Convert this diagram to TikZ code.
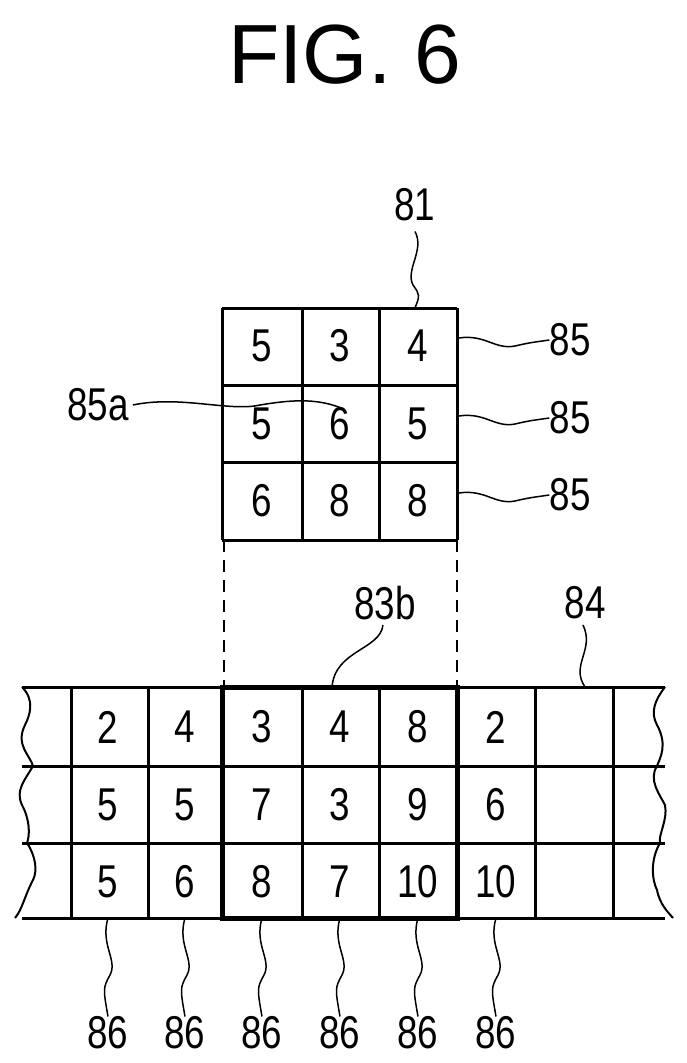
\documentclass[tikz,border=0pt]{standalone}
\usepackage{fontspec}
\setmainfont{Liberation Sans}
\begin{document}
\begin{tikzpicture}[x=1pt,y=-1pt,
  grid/.style={line width=3pt},
  lead/.style={line width=1.5pt},
  num/.style={font=\fontsize{46}{46}\selectfont, inner sep=0pt, xscale=0.8},
  lab/.style={font=\fontsize{46}{46}\selectfont, inner sep=0pt, xscale=0.8}]
\useasboundingbox (0,0) rectangle (687,1063);
\node[inner sep=0pt,font=\fontsize{84}{84}\selectfont] (fig) at (345,55) {FIG. 6};
% top grid
\foreach \x in {222,302,379,457} \draw[grid] (\x,308) -- (\x,540);
\foreach \y in {308,385,462,540} \draw[grid] (222,\y) -- (457,\y);
\foreach \v [count=\i from 0] in {5,3,4,5,6,5,6,8,8}{
  \pgfmathtruncatemacro\c{mod(\i,3)}
  \pgfmathtruncatemacro\rr{div(\i,3)}
  \pgfmathsetmacro\cx{{262,340,418}[\c]}
  \pgfmathsetmacro\cy{{346,424,501}[\rr]}
  \node[num] (t\i) at (\cx,\cy) {\v};
}
% dashed
\draw[line width=2pt,dash pattern=on 12pt off 8pt] (224,540) -- (224,687);
\draw[line width=2pt,dash pattern=on 12pt off 8pt] (457,540) -- (457,687);
% bottom grid
\foreach \y in {687,766,843,918} \draw[grid] (22,\y) -- (665,\y);
\foreach \x in {71,148,222,302,379,457,535,613} \draw[grid] (\x,687) -- (\x,918);
\draw[line width=2pt] (22,687) .. controls (35,700) and (30,715) .. (25,725)
  .. controls (15,745) and (30,755) .. (33,766)
  .. controls (25,780) and (15,790) .. (22,805)
  .. controls (30,820) and (30,835) .. (27,843)
  .. controls (35,855) and (38,870) .. (33,880)
  .. controls (25,895) and (22,910) .. (15,918);
\draw[line width=2pt] (665,687) .. controls (655,700) and (650,712) .. (657,725)
  .. controls (668,745) and (660,758) .. (657,766)
  .. controls (648,780) and (660,795) .. (665,805)
  .. controls (668,820) and (658,835) .. (660,843)
  .. controls (650,860) and (652,880) .. (657,890)
  .. controls (660,905) and (668,912) .. (673,918);
\draw[line width=5pt] (222,687) rectangle (457,918);
\foreach \v [count=\i from 0] in {2,4,3,4,8,2,,,5,5,7,3,9,6,,,5,6,8,7,10,10,,}{
  \pgfmathtruncatemacro\c{mod(\i,8)}
  \pgfmathtruncatemacro\rr{div(\i,8)}
  \pgfmathsetmacro\cx{{108,185,262,340,418,496,574,640}[\c]}
  \pgfmathsetmacro\cy{{727,805,882}[\rr]}
  \node[num] (b\i) at (\cx,\cy) {\v};
}
% labels
\node[lab] (l81) at (415,205) {81};
\coordinate (e81) at (415,308);
\draw[lead] (l81.south) ++(0,10) .. controls (425,250) and (405,270) .. (413,285) .. controls (420,295) .. (e81);
\foreach \y/\n in {346/1,424/2,501/3}{
  \node[lab] (l85\n) at (570,\y-6) {85};
  \draw[lead] (459,\y-8) .. controls (485,\y-12) and (495,\y+4) .. (515,\y) .. controls (528,\y-3) .. (l85\n.west);
}
\node[lab] (l85a) at (98,405) {85a};
\draw[lead] (l85a.east) ++(4,0) .. controls (180,395) and (230,412) .. (260,405) .. controls (290,400) and (315,398) .. (t4.north);
\node[lab] (l83b) at (385,603) {83b};
\draw[lead] (383,625) .. controls (380,650) and (335,650) .. (332,687);
\node[lab] (l84) at (585,603) {84};
\draw[lead] (583,625) .. controls (595,650) and (570,665) .. (585,687);
\foreach \x [count=\i] in {108,185,262,340,418,496}{
  \node[lab] (l86\i) at (\x,1033) {86};
  \draw[lead] (\x,918) .. controls (\x-8,945) and (\x+10,960) .. (\x+2,975) .. controls (\x-5,988) .. (l86\i.north);
}
\end{tikzpicture}
\end{document}
